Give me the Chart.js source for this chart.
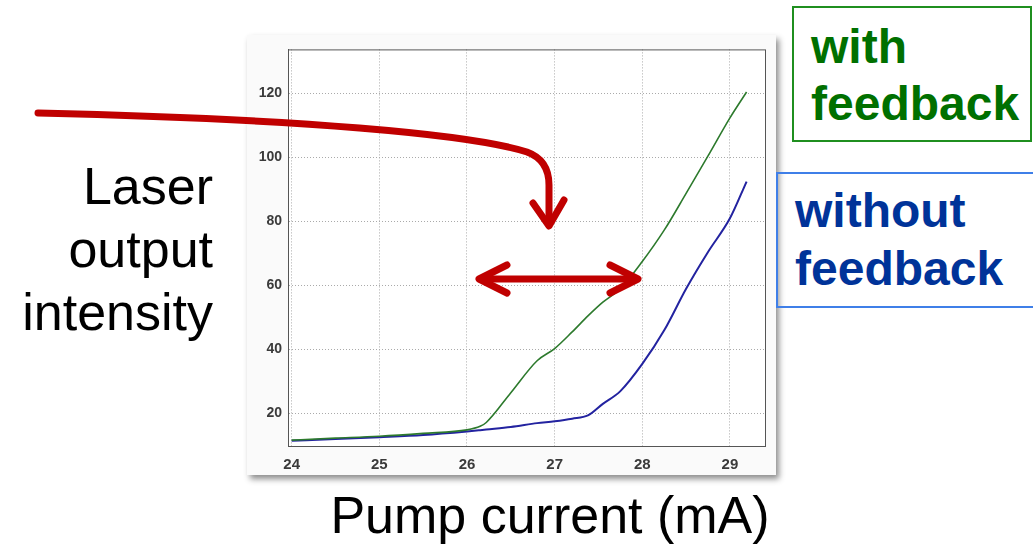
<!DOCTYPE html>
<html>
<head>
<meta charset="utf-8">
<script src="https://cdn.jsdelivr.net/npm/chart.js@4/dist/chart.umd.min.js"></script>
<style>
  body { margin: 0; width: 1033px; height: 546px; background: #fff; position: relative; overflow: hidden; font-family: "Liberation Sans", Arial, sans-serif; }
  #frame { position: absolute; left: 247px; top: 35px; width: 529px; height: 440px; background: #fafafa; box-shadow: 3px 4px 6px rgba(0,0,0,0.45); }
  #frame canvas { position: absolute; left: 0; top: 0; }
  .lbl { position: absolute; white-space: nowrap; }
  #ylab { right: 820px; top: 155px; font-size: 52px; line-height: 63px; text-align: right; color: #000; }
  #xlab { left: 0; width: 1100px; top: 484px; font-size: 52px; line-height: 63px; text-align: center; color: #000; }
  .box { position: absolute; font-weight: bold; font-size: 48px; box-sizing: border-box; }
  #withBox { left: 792px; top: 6px; width: 240px; height: 136px; border: 2px solid #1f8f1f; color: #007000; }
  #withBox div { position: absolute; left: 17px; top: 10px; line-height: 57px; }
  #withoutBox { left: 776px; top: 172px; width: 270px; height: 136px; border: 2px solid #3f7fe8; color: #003399; }
  #withoutBox div { position: absolute; left: 17px; top: 8px; line-height: 58px; }
  svg { position: absolute; left: 0; top: 0; }
</style>
</head>
<body>
<div id="frame"><canvas id="myChart" width="529" height="440"></canvas></div>

<div class="lbl" id="ylab">Laser<br>output<br>intensity</div>
<div class="lbl" id="xlab">Pump current (mA)</div>

<div class="box" id="withBox"><div>with<br>feedback</div></div>
<div class="box" id="withoutBox"><div>without<br>feedback</div></div>

<svg width="1033" height="546">
  <g fill="none" stroke="#c00000" stroke-width="7" stroke-linecap="round" stroke-linejoin="round">
    <path d="M 38 113 C 300 119, 470 134, 527 152 Q 549 160, 549 185 L 549 224"/>
    <polyline points="533,203 549,226 564,200"/>
    <line x1="481" y1="279" x2="636" y2="279"/>
    <polyline points="507,265 479,279 507,293"/>
    <polyline points="610,265 638,279 610,293"/>
  </g>
</svg>

<script>
const pumpCurrent = [24, 24.5, 25, 25.5, 26, 26.15, 26.22, 26.5, 26.8, 27.0, 27.2, 27.38, 27.55, 27.75, 28.0, 28.25, 28.5, 28.75, 29.0, 29.19];
const withFeedback = [11.7, 12.3, 12.9, 13.8, 14.9, 16.0, 17.2, 26.5, 36.5, 40.3, 45.5, 50.5, 54.8, 59, 67.5, 77.3, 88.8, 100.5, 112.4, 120.5];
const withoutFeedback = [11.5, 12.0, 12.6, 13.3, 14.4, 14.8, 15.0, 15.8, 17.0, 17.6, 18.4, 19.4, 23, 27, 35.5, 46, 59, 70.5, 81, 92.5];
const xTicks = [24, 25, 26, 27, 28, 29];
const yTicks = [20, 40, 60, 80, 100, 120];

const toPoints = (ys) => pumpCurrent.map((x, i) => ({ x: x, y: ys[i] }));

// matlab style closed box around the axes
const boxPlugin = {
  id: 'box',
  beforeDatasetsDraw(chart) {
    const { ctx, chartArea: a } = chart;
    ctx.save();
    ctx.strokeStyle = '#555';
    ctx.lineWidth = 1;
    ctx.strokeRect(a.left + 0.5, a.top + 0.5, a.right - a.left, a.bottom - a.top);
    ctx.restore();
  }
};

const bg = {
  id: 'bg',
  beforeDraw(chart) {
    const { ctx, chartArea: a } = chart;
    ctx.save();
    ctx.fillStyle = '#fff';
    ctx.fillRect(a.left, a.top, a.right - a.left, a.bottom - a.top);
    ctx.restore();
  }
};

new Chart(document.getElementById('myChart').getContext('2d'), {
  type: 'line',
  data: {
    datasets: [{
      label: 'with feedback',
      data: toPoints(withFeedback),
      borderColor: '#2d7a2d',
      borderWidth: 1.6,
      pointRadius: 0,
      cubicInterpolationMode: 'monotone'
    }, {
      label: 'without feedback',
      data: toPoints(withoutFeedback),
      borderColor: '#2323a0',
      borderWidth: 2,
      pointRadius: 0,
      cubicInterpolationMode: 'monotone'
    }]
  },
  options: {
    responsive: false,
    animation: false,
    layout: { padding: { top: 9, right: 11, left: 0, bottom: 0 } },
    plugins: { legend: { display: false }, tooltip: { enabled: false } },
    scales: {
      x: {
        type: 'linear',
        min: 23.958,
        max: 29.4,
        afterBuildTicks: (s) => { s.ticks = xTicks.map(v => ({ value: v })); },
        afterFit: (s) => { s.height = 29; },
        ticks: { color: '#3a3a3a', font: { size: 15, weight: 'bold', family: 'Liberation Sans' }, padding: 10 },
        grid: { color: '#aaaaaa', drawTicks: false },
        border: { color: '#555', dash: [1, 2] }
      },
      y: {
        min: 9.85,
        max: 133.8,
        afterBuildTicks: (s) => { s.ticks = yTicks.map(v => ({ value: v })); },
        afterFit: (s) => { s.width = 41; },
        ticks: { color: '#3a3a3a', font: { size: 14, weight: 'bold', family: 'Liberation Sans' }, padding: 6 },
        grid: { color: '#aaaaaa', drawTicks: false },
        border: { color: '#555', dash: [1, 2] }
      }
    }
  },
  plugins: [bg, boxPlugin]
});
</script>
</body>
</html>
